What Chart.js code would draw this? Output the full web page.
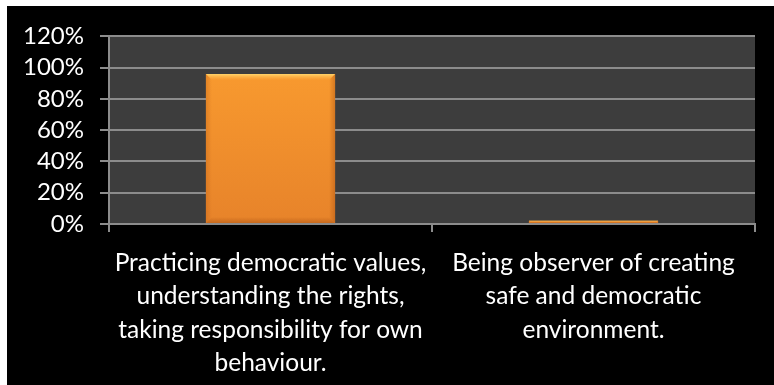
<!DOCTYPE html>
<html>
<head>
<meta charset="utf-8">
<script src="https://cdn.jsdelivr.net/npm/chart.js@4/dist/chart.umd.min.js"></script>
<style>
  html, body { margin: 0; padding: 0; background: #ffffff; }
  #frame { position: absolute; left: 7px; top: 6px; width: 767px; height: 379px; background: #000000; }
  #chart { display: block; }
</style>
</head>
<body>
<div id="frame"><canvas id="chart" width="767" height="379"></canvas></div>
<script>
// Categories (multi-line labels) and their shares, in percent
const categories = [
  ["Practicing democratic values,", "understanding the rights,", "taking responsibility for own", "behaviour."],
  ["Being observer of creating", "safe and democratic", "environment."]
];
const shares = [96, 2];
const yTicks = [0, 20, 40, 60, 80, 100, 120];

const FONT = "Lato, 'Open Sans', sans-serif";
const GRID = "#8c8c8c";

// Dark plot area behind the bars
const plotBackground = {
  id: "plotBackground",
  beforeDraw(chart) {
    const { ctx, chartArea: a } = chart;
    ctx.save();
    ctx.fillStyle = "#3d3d3d";
    ctx.fillRect(a.left, a.top, a.right - a.left, a.bottom - a.top);
    ctx.restore();
  }
};

// Soft bevel on each bar: light top rim, darker sides and foot
const bevel = {
  id: "bevel",
  afterDatasetsDraw(chart) {
    const { ctx } = chart;
    chart.getDatasetMeta(0).data.forEach(bar => {
      const { x, y, base, width } = bar.getProps(["x", "y", "base", "width"], true);
      const l = x - width / 2, r = x + width / 2, t = y, b = base;
      const h = b - t;
      if (h <= 0) return;
      const e = Math.min(6, h / 2);
      ctx.save();
      // top rim
      let g = ctx.createLinearGradient(0, t, 0, t + e);
      g.addColorStop(0, "rgba(255,215,110,0.95)");
      g.addColorStop(1, "rgba(255,190,80,0)");
      ctx.fillStyle = g;
      ctx.beginPath();
      ctx.moveTo(l, t); ctx.lineTo(r, t); ctx.lineTo(r - e, t + e); ctx.lineTo(l + e, t + e); ctx.closePath();
      ctx.fill();
      // left side
      g = ctx.createLinearGradient(l, 0, l + e, 0);
      g.addColorStop(0, "rgba(190,95,20,0.35)");
      g.addColorStop(1, "rgba(190,95,20,0)");
      ctx.fillStyle = g;
      ctx.beginPath();
      ctx.moveTo(l, t); ctx.lineTo(l + e, t + e); ctx.lineTo(l + e, b - e); ctx.lineTo(l, b); ctx.closePath();
      ctx.fill();
      // right side
      g = ctx.createLinearGradient(r, 0, r - e, 0);
      g.addColorStop(0, "rgba(170,80,15,0.45)");
      g.addColorStop(1, "rgba(170,80,15,0)");
      ctx.fillStyle = g;
      ctx.beginPath();
      ctx.moveTo(r, t); ctx.lineTo(r - e, t + e); ctx.lineTo(r - e, b - e); ctx.lineTo(r, b); ctx.closePath();
      ctx.fill();
      // foot
      g = ctx.createLinearGradient(0, b, 0, b - e);
      g.addColorStop(0, "rgba(160,75,15,0.45)");
      g.addColorStop(1, "rgba(160,75,15,0)");
      ctx.fillStyle = g;
      ctx.beginPath();
      ctx.moveTo(l, b); ctx.lineTo(r, b); ctx.lineTo(r - e, b - e); ctx.lineTo(l + e, b - e); ctx.closePath();
      ctx.fill();
      ctx.restore();
    });
  }
};

function barFill(context) {
  const area = context.chart.chartArea;
  if (!area) return "#f39430";
  const g = context.chart.ctx.createLinearGradient(0, area.top, 0, area.bottom);
  g.addColorStop(0, "#fc9f30");
  g.addColorStop(1, "#e7832a");
  return g;
}

new Chart(document.getElementById("chart"), {
  type: "bar",
  data: {
    labels: categories,
    datasets: [{
      data: shares,
      backgroundColor: barFill,
      borderWidth: 0,
      barPercentage: 0.4,
      categoryPercentage: 1.0
    }]
  },
  options: {
    responsive: false,
    animation: false,
    layout: { padding: { top: 30, right: 19, left: 0, bottom: 0 } },
    plugins: { legend: { display: false }, tooltip: { enabled: false } },
    scales: {
      y: {
        min: 0,
        max: 120,
        afterBuildTicks(scale) { scale.ticks = yTicks.map(v => ({ value: v })); },
        afterFit(scale) { scale.width = 102; },
        ticks: {
          color: "#ffffff",
          font: { family: FONT, size: 24 },
          padding: 16,
          autoSkip: false,
          callback: v => v + "%"
        },
        grid: { color: GRID, lineWidth: 2, tickLength: 9 },
        border: { color: GRID, width: 2 }
      },
      x: {
        afterFit(scale) { scale.height = 161; },
        ticks: {
          color: "#ffffff",
          font: { family: FONT, size: 24.5, lineHeight: 1.37 },
          padding: 14,
          maxRotation: 0,
          autoSkip: false
        },
        grid: { drawOnChartArea: false, color: GRID, lineWidth: 2, tickLength: 8 },
        border: { color: GRID, width: 2 }
      }
    }
  },
  plugins: [plotBackground, bevel]
});
</script>
</body>
</html>
